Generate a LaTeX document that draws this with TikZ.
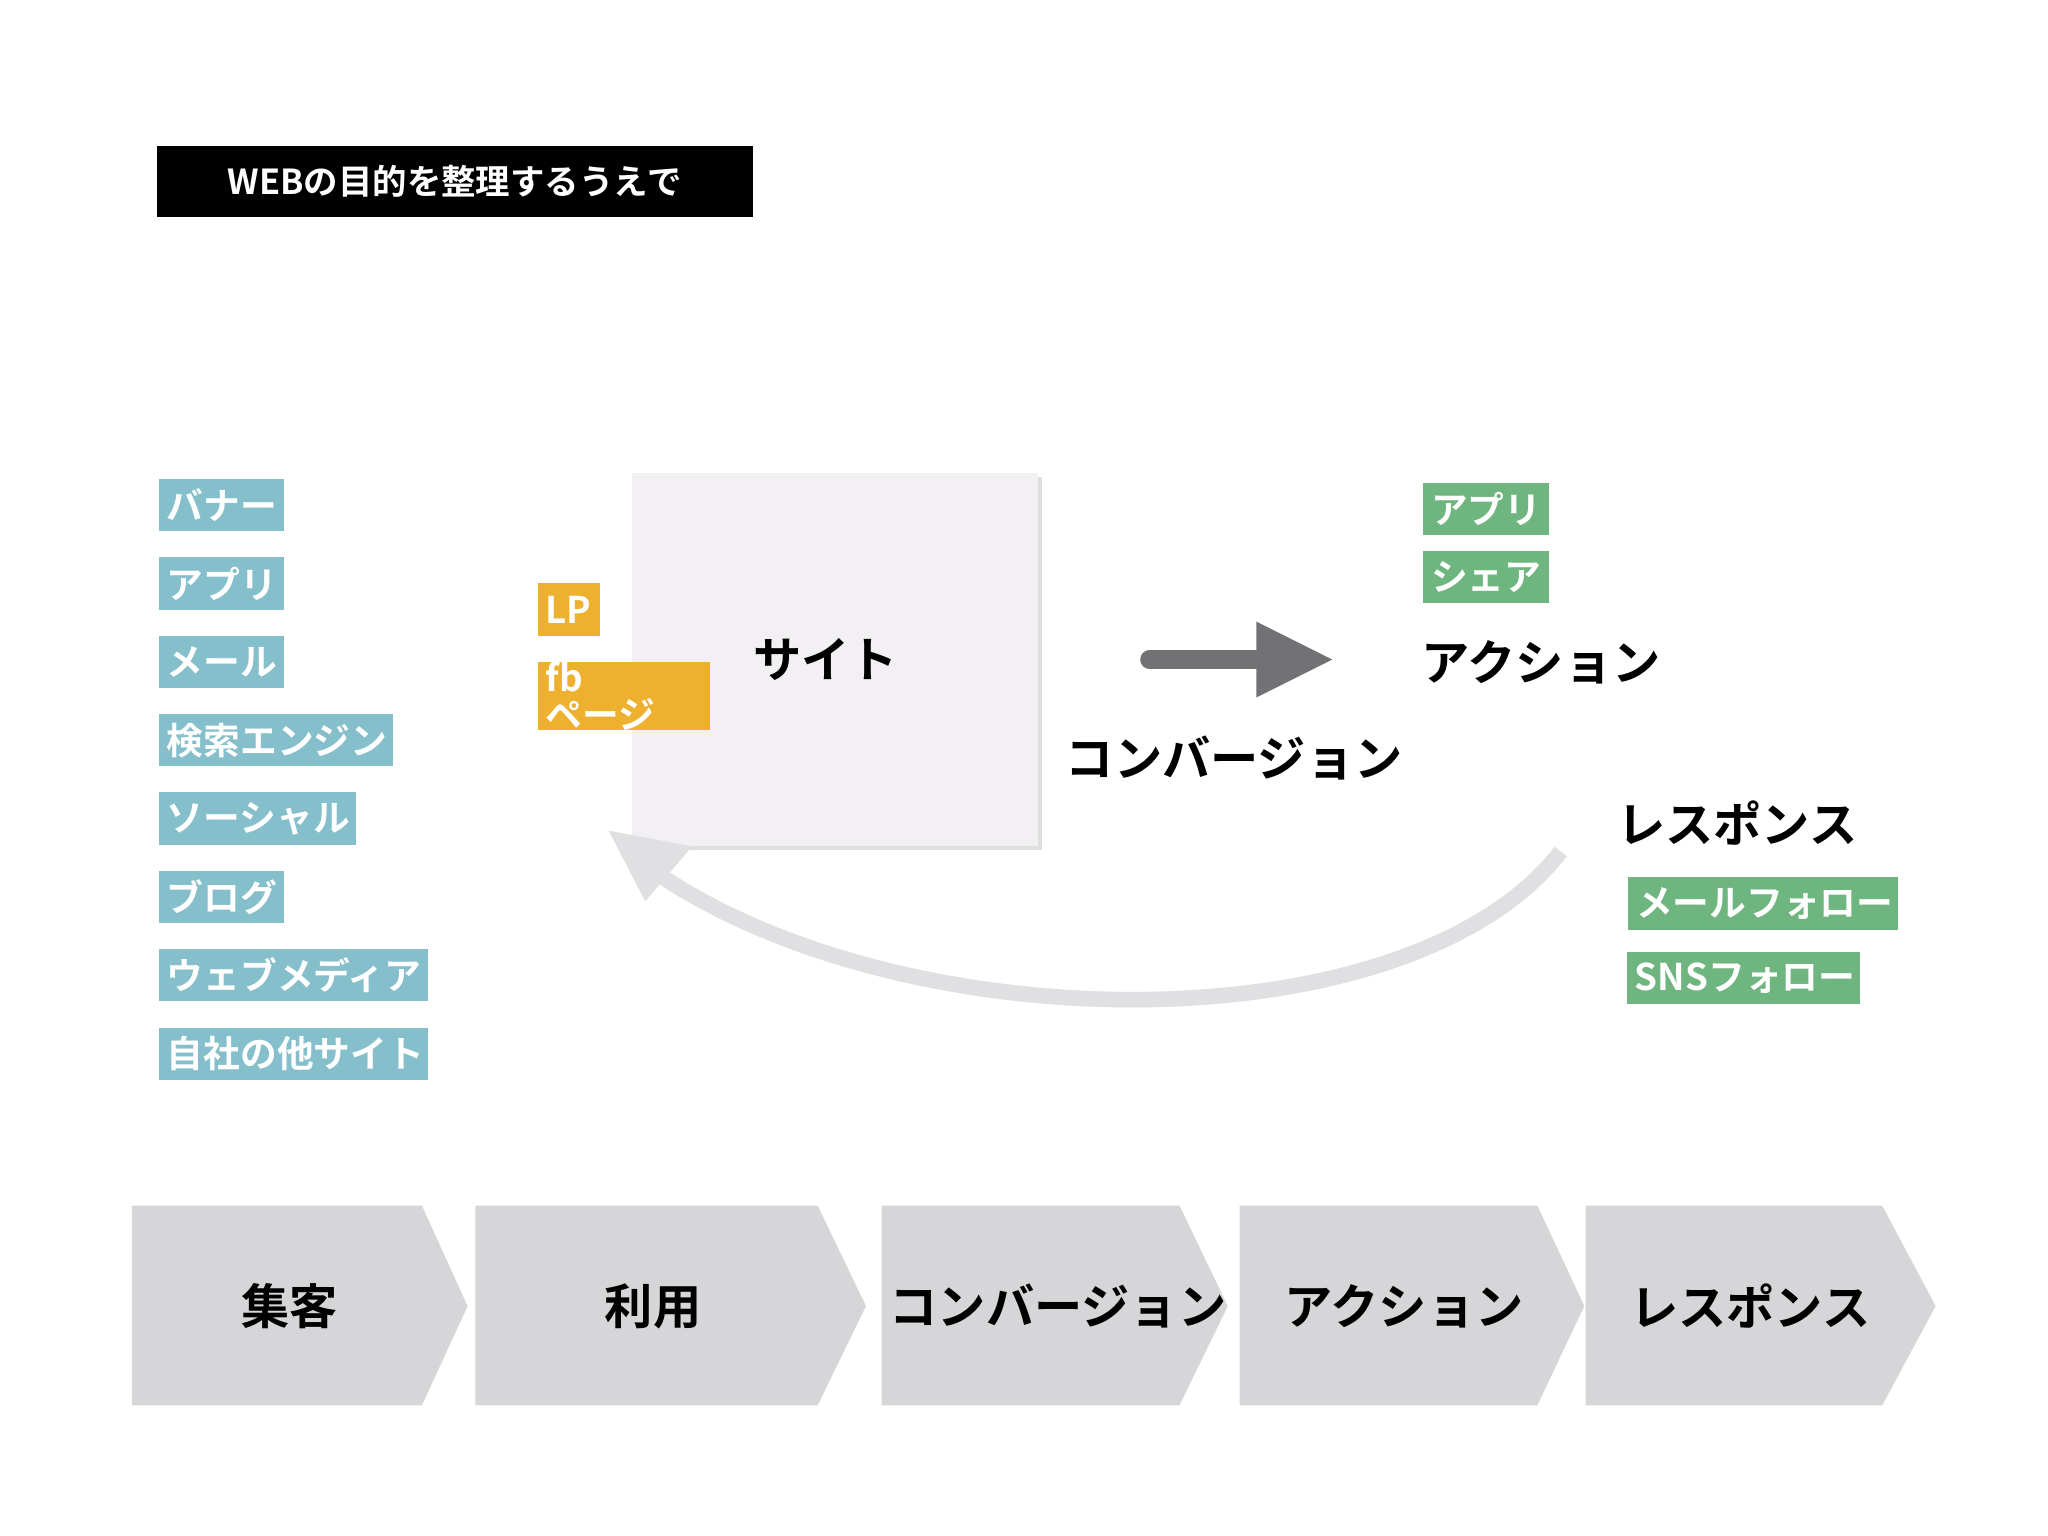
\documentclass[tikz,border=0pt]{standalone}
\usepackage{fontspec}
\setmainfont{Noto Sans CJK JP}[BoldFont={* Bold}]
\usetikzlibrary{shadows}
\definecolor{tagblue}{HTML}{84BFCB}
\definecolor{tagorange}{HTML}{EDB12F}
\definecolor{taggreen}{HTML}{6FB57F}
\definecolor{sitebg}{HTML}{F2F0F3}
\definecolor{arrgray}{HTML}{727174}
\definecolor{curvegray}{HTML}{E0DFE1}
\definecolor{chev}{HTML}{D6D5D8}
\tikzset{
 tag/.style={anchor=north west,inner sep=0pt,minimum height=0.4cm,text=white,font=\fontsize{8}{8}\selectfont\bfseries,align=left},
 big/.style={font=\fontsize{10.5}{11}\selectfont\bfseries,inner sep=0pt},
}
\begin{document}
\begin{tikzpicture}[x=0.01cm,y=-0.01cm]
\useasboundingbox[fill=white] (0,0) rectangle (1568,1176);
\node[fill=black,text=white,minimum width=4.56cm,minimum height=0.54cm,inner sep=0pt,font=\fontsize{7.5}{8}\selectfont\bfseries] (title) at (348,139) {WEBの目的を整理するうえで};
% blue tags
\foreach \n/\w/\y/\t in {b1/96/366/バナー,b2/96/426/アプリ,b3/96/486/メール,b4/179/546/検索エンジン,b5/151/606/ソーシャル,b6/96/666/ブログ,b7/206/726/ウェブメディア,b8/206/786/自社の他サイト}
 \node[tag,fill=tagblue,minimum width=\w*0.01cm,text width=\w*0.01cm-0.12cm,inner xsep=0.06cm] (\n) at (121,\y) {\t};
% site
\node[fill=sitebg,minimum width=3.11cm,minimum height=2.86cm,inner sep=0pt,drop shadow={opacity=0.25,shadow xshift=0.03cm,shadow yshift=-0.03cm}] (site) at (639.5,505) {};
\node[big] (sitet) at (632,505) {サイト};
\node[tag,fill=tagorange,minimum width=0.48cm,text width=0.36cm,inner xsep=0.06cm] (lp) at (411,446) {LP};
\node[tag,fill=tagorange,minimum width=1.32cm,text width=1.2cm,inner xsep=0.06cm] (fb) at (411,506) {fb ページ};
% arrow
\coordinate (a1) at (880,505);
\coordinate (a2) at (965,505);
\draw[arrgray,line width=4pt,line cap=round] (a1) -- (a2);
\fill[arrgray] (962,476) -- (1020,505) -- (962,534) -- cycle;
\node[big] (conv) at (945,580) {コンバージョン};
\node[tag,fill=taggreen,minimum width=0.96cm,text width=0.84cm,inner xsep=0.06cm] (g1) at (1089,369) {アプリ};
\node[tag,fill=taggreen,minimum width=0.96cm,text width=0.84cm,inner xsep=0.06cm] (g2) at (1089,421) {シェア};
\node[big] (act) at (1180,507) {アクション};
\node[big] (resp) at (1330,630) {レスポンス};
\node[tag,fill=taggreen,minimum width=2.06cm,text width=1.94cm,inner xsep=0.06cm] (g3) at (1246,671) {メールフォロー};
\node[tag,fill=taggreen,minimum width=1.78cm,text width=1.66cm,inner xsep=0.06cm] (g4) at (1245,728) {SNSフォロー};
% curve
\coordinate (c1) at (1195,652);
\coordinate (c2) at (505,670);
\draw[curvegray,line width=3.4pt] (c1) .. controls (1080,800) and (700,800) .. (c2);
\fill[curvegray] (466,636) -- (530,648) -- (494,690) -- cycle;
% chevrons
\foreach \n/\a/\b/\c/\t/\tx in {s1/101/323/358/集客/222,s2/364/626/663/利用/500,s3/675/903/940/コンバージョン/810,s4/949/1177/1213/アクション/1075,s5/1214/1441/1482/レスポンス/1340}{
 \fill[chev] (\a,923) -- (\b,923) -- (\c,1000) -- (\b,1076) -- (\a,1076) -- cycle;
 \node[big] (\n) at (\tx,1000) {\t};
}
\end{tikzpicture}
\end{document}
